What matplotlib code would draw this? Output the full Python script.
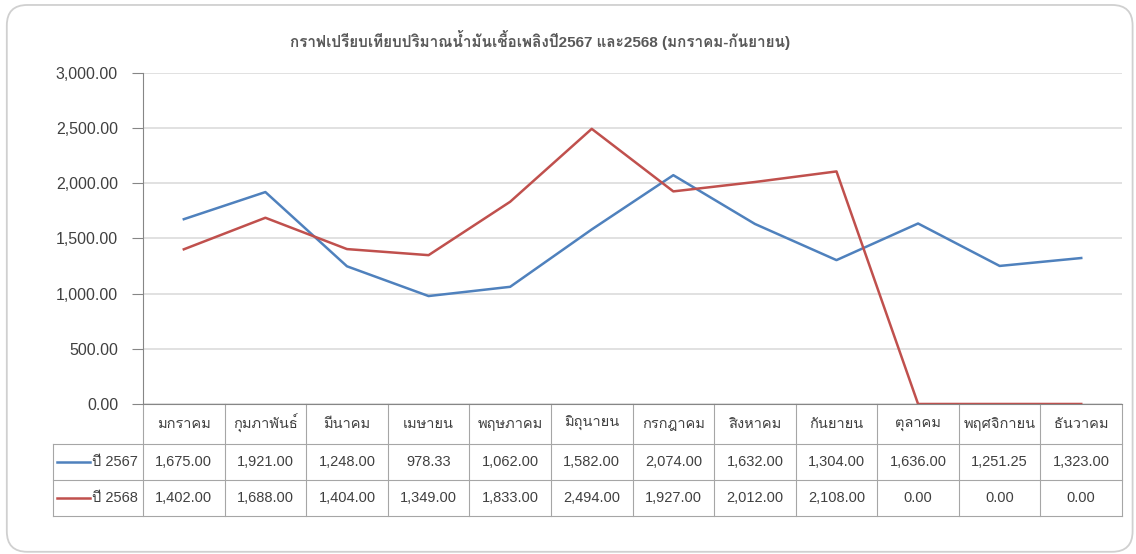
import matplotlib
matplotlib.use("Agg")
import matplotlib.pyplot as plt
import matplotlib.transforms as mtransforms
from matplotlib import font_manager
from matplotlib.ft2font import FT2Font
from matplotlib.patches import FancyBboxPatch
from matplotlib.ticker import FuncFormatter

months = ["มกราคม", "กุมภาพันธ์", "มีนาคม", "เมษายน", "พฤษภาคม", "มิถุนายน",
          "กรกฎาคม", "สิงหาคม", "กันยายน", "ตุลาคม", "พฤศจิกายน", "ธันวาคม"]
y2567 = [1675.00, 1921.00, 1248.00, 978.33, 1062.00, 1582.00,
         2074.00, 1632.00, 1304.00, 1636.00, 1251.25, 1323.00]
y2568 = [1402.00, 1688.00, 1404.00, 1349.00, 1833.00, 2494.00,
         1927.00, 2012.00, 2108.00, 0.00, 0.00, 0.00]
series_names = ["ปี 2567", "ปี 2568"]
title = "กราฟเปรียบเทียบปริมาณน้ำมันเชื้อเพลิงปี2567 และ2568 (มกราคม-กันยายน)"


def find_thai_font():
    for f in font_manager.fontManager.ttflist:
        try:
            if FT2Font(f.fname).get_char_index(ord("ก")):
                return f.name
        except Exception:
            pass
    return None


thai = find_thai_font()
families = ["Liberation Sans"] + ([thai] if thai else []) + ["DejaVu Sans"]
plt.rcParams["font.family"] = families

blue = "#4f81bd"
red = "#c0504d"
text_col = "#404040"
grid_col = "#d9d9d9"
border_col = "#a6a6a6"

fig = plt.figure(figsize=(11.36, 5.54), dpi=100)

# card border (rounded, slightly cut at the bottom like the screenshot)
card = FancyBboxPatch((0.006, 0.004), 0.991, 0.987,
                      boxstyle="round,pad=0,rounding_size=0.018",
                      mutation_aspect=1136 / 554,
                      transform=fig.transFigure, facecolor="none", edgecolor="#d0d0d0",
                      lw=1.3, zorder=-1)
fig.patches.append(card)

ax = fig.add_axes([0.1259, 0.2708, 0.8618, 0.5974])
ax.patch.set_alpha(0)
x = list(range(len(months)))
ax.plot(x, y2567, color=blue, lw=1.8)
ax.plot(x, y2568, color=red, lw=1.8)

ax.set_xlim(-0.5, len(months) - 0.5)
ax.set_ylim(0, 3000)
ax.set_yticks([0, 500, 1000, 1500, 2000, 2500, 3000])
ax.yaxis.set_major_formatter(FuncFormatter(lambda v, p: f"{v:,.2f}"))
ax.tick_params(axis="y", length=8, width=0.8, color="#868686", labelsize=11.5,
               labelcolor=text_col, pad=10)
ax.tick_params(axis="x", length=0, labelbottom=False)
ax.grid(axis="y", color=grid_col, lw=1.1)
ax.set_axisbelow(True)
for s in ["top", "right"]:
    ax.spines[s].set_visible(False)
ax.spines["left"].set_color("#868686")
ax.spines["bottom"].set_color("#868686")

# data table under the plot
trans = mtransforms.blended_transform_factory(ax.transData, ax.transAxes)
n = len(months)
head_h = 0.1208
row_h = 0.1088
label_w = 1.1
rows = [y2567, y2568]
colors = [blue, red]
bottom = -head_h - row_h * len(rows)
left = -0.5 - label_w
right = n - 0.5
line_kw = dict(color=border_col, lw=0.8, transform=trans, clip_on=False)

for i in range(n + 1):
    ax.plot([i - 0.5, i - 0.5], [0, bottom], **line_kw)
ax.plot([left, left], [-head_h, bottom], **line_kw)
for r in range(len(rows) + 1):
    yy = -head_h - row_h * r
    ax.plot([left, right], [yy, yy], **line_kw)

for i, m in enumerate(months):
    ax.text(i, -head_h / 2, m, transform=trans, ha="center", va="center",
            fontsize=10.5, color=text_col)

for r, (vals, name, c) in enumerate(zip(rows, series_names, colors)):
    yc = -head_h - row_h * (r + 0.5)
    for i, v in enumerate(vals):
        ax.text(i, yc, f"{v:,.2f}", transform=trans, ha="center", va="center",
                fontsize=10.5, color=text_col)
    ax.plot([left + 0.05, left + 0.45], [yc, yc], color=c, lw=1.8,
            transform=trans, clip_on=False)
    ax.text(left + 0.47, yc, name, transform=trans, ha="left", va="center",
            fontsize=10.5, color=text_col)

fig.text(0.475, 0.928, title, ha="center", va="center", fontsize=11,
         fontweight="bold", color="#595959")

fig.savefig("out.png", dpi=100)
